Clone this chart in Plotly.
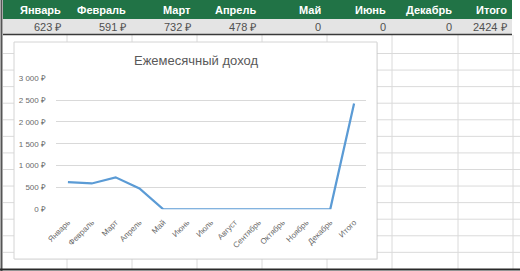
import plotly.graph_objects as go

W, H = 520, 271

# ---- data ----
header_labels = ["Январь", "Февраль", "Март", "Апрель", "Май", "Июнь", "Декабрь", "Итого"]
header_values = ["623 ₽", "591 ₽", "732 ₽", "478 ₽", "0", "0", "0", "2424 ₽"]
months = ["Январь", "Февраль", "Март", "Апрель", "Май", "Июнь", "Июль", "Август",
          "Сентябрь", "Октябрь", "Ноябрь", "Декабрь", "Итого"]
income = [623, 591, 732, 478, 0, 0, 0, 0, 0, 0, 0, 0, 2424]
y_tickvals = [0, 500, 1000, 1500, 2000, 2500, 3000]
y_ticktext = ["0 ₽", "500 ₽", "1 000 ₽", "1 500 ₽", "2 000 ₽", "2 500 ₽", "3 000 ₽"]
chart_title = "Ежемесячный доход"

def X(p):
    return p / W

def Y(p):
    return 1 - p / H

FONT = "Liberation Sans, Arial, sans-serif"
GRID = "#DADADA"

shapes = []
# spreadsheet grid lines
col_edges = [67, 132, 197, 262, 327, 392, 458, 513]
for cx in col_edges:
    shapes.append(dict(type="line", xref="paper", yref="paper", x0=X(cx), x1=X(cx),
                       y0=Y(35), y1=Y(269), line=dict(color=GRID, width=1), layer="below"))
row_y = 53.5
while row_y < 268:
    shapes.append(dict(type="line", xref="paper", yref="paper", x0=X(3), x1=X(520),
                       y0=Y(row_y), y1=Y(row_y), line=dict(color=GRID, width=1), layer="below"))
    row_y += 16.57
# header (green) and value (gray) rows
shapes.append(dict(type="rect", xref="paper", yref="paper", x0=X(3), x1=X(512), y0=Y(0), y1=Y(19),
                   fillcolor="#217346", line=dict(width=0), layer="below"))
shapes.append(dict(type="rect", xref="paper", yref="paper", x0=X(3), x1=X(512), y0=Y(19), y1=Y(34),
                   fillcolor="#E4E4E4", line=dict(width=0), layer="below"))
shapes.append(dict(type="line", xref="paper", yref="paper", x0=X(3), x1=X(512), y0=Y(34.5), y1=Y(34.5),
                   line=dict(color="#3A3A3A", width=1.5), layer="below"))
# outer dark borders
shapes.append(dict(type="line", xref="paper", yref="paper", x0=X(1.5), x1=X(1.5), y0=Y(0), y1=Y(271),
                   line=dict(color="#555555", width=2), layer="below"))
shapes.append(dict(type="line", xref="paper", yref="paper", x0=X(0), x1=X(520), y0=Y(269.5), y1=Y(269.5),
                   line=dict(color="#2A2A2A", width=2), layer="below"))
# chart area
shapes.append(dict(type="rect", xref="paper", yref="paper", x0=X(15), x1=X(378), y0=Y(43), y1=Y(260),
                   fillcolor="rgba(0,0,0,0.06)", line=dict(width=0), layer="below"))
shapes.append(dict(type="rect", xref="paper", yref="paper", x0=X(14), x1=X(377), y0=Y(42), y1=Y(259),
                   fillcolor="white", line=dict(color="#D4D4D4", width=1), layer="below"))

annotations = []
for i, (lab, val) in enumerate(zip(header_labels, header_values)):
    right = col_edges[i] - 4
    annotations.append(dict(xref="paper", yref="paper", x=X(right), y=Y(10), text="<b>" + lab + "</b>",
                            showarrow=False, xanchor="right", yanchor="middle",
                            font=dict(family=FONT, size=11, color="white")))
    annotations.append(dict(xref="paper", yref="paper", x=X(right), y=Y(27), text=val,
                            showarrow=False, xanchor="right", yanchor="middle",
                            font=dict(family=FONT, size=11, color="#505050")))
annotations.append(dict(xref="paper", yref="paper", x=X(196), y=Y(60), text=chart_title,
                        showarrow=False, xanchor="center", yanchor="middle",
                        font=dict(family=FONT, size=13, color="#595959")))

fig = go.Figure()
fig.add_trace(go.Scatter(x=months, y=income, mode="lines",
                         line=dict(color="#5B9BD5", width=2.25), hoverinfo="skip"))

fig.update_layout(
    template="none",
    width=W, height=H,
    margin=dict(l=0, r=0, t=0, b=0, pad=0),
    paper_bgcolor="white",
    plot_bgcolor="rgba(0,0,0,0)",
    showlegend=False,
    shapes=shapes,
    annotations=annotations,
    xaxis=dict(domain=[X(56), X(366)], range=[-0.5, 12.5], type="category", automargin=False,
               showgrid=False, zeroline=False, showline=False,
               tickangle=-45, tickfont=dict(family=FONT, size=8, color="#6A6A6A"),
               ticks="", ticklabelstandoff=6, fixedrange=True),
    yaxis=dict(domain=[Y(209.3), Y(78.3)], range=[0, 3000], automargin=False,
               tickvals=y_tickvals, ticktext=y_ticktext,
               showgrid=True, gridcolor="#D9D9D9", gridwidth=1, zeroline=False, showline=False,
               tickfont=dict(family=FONT, size=8, color="#6A6A6A"),
               ticks="", ticklabelstandoff=9, fixedrange=True),
)

fig.write_html("out.html")
